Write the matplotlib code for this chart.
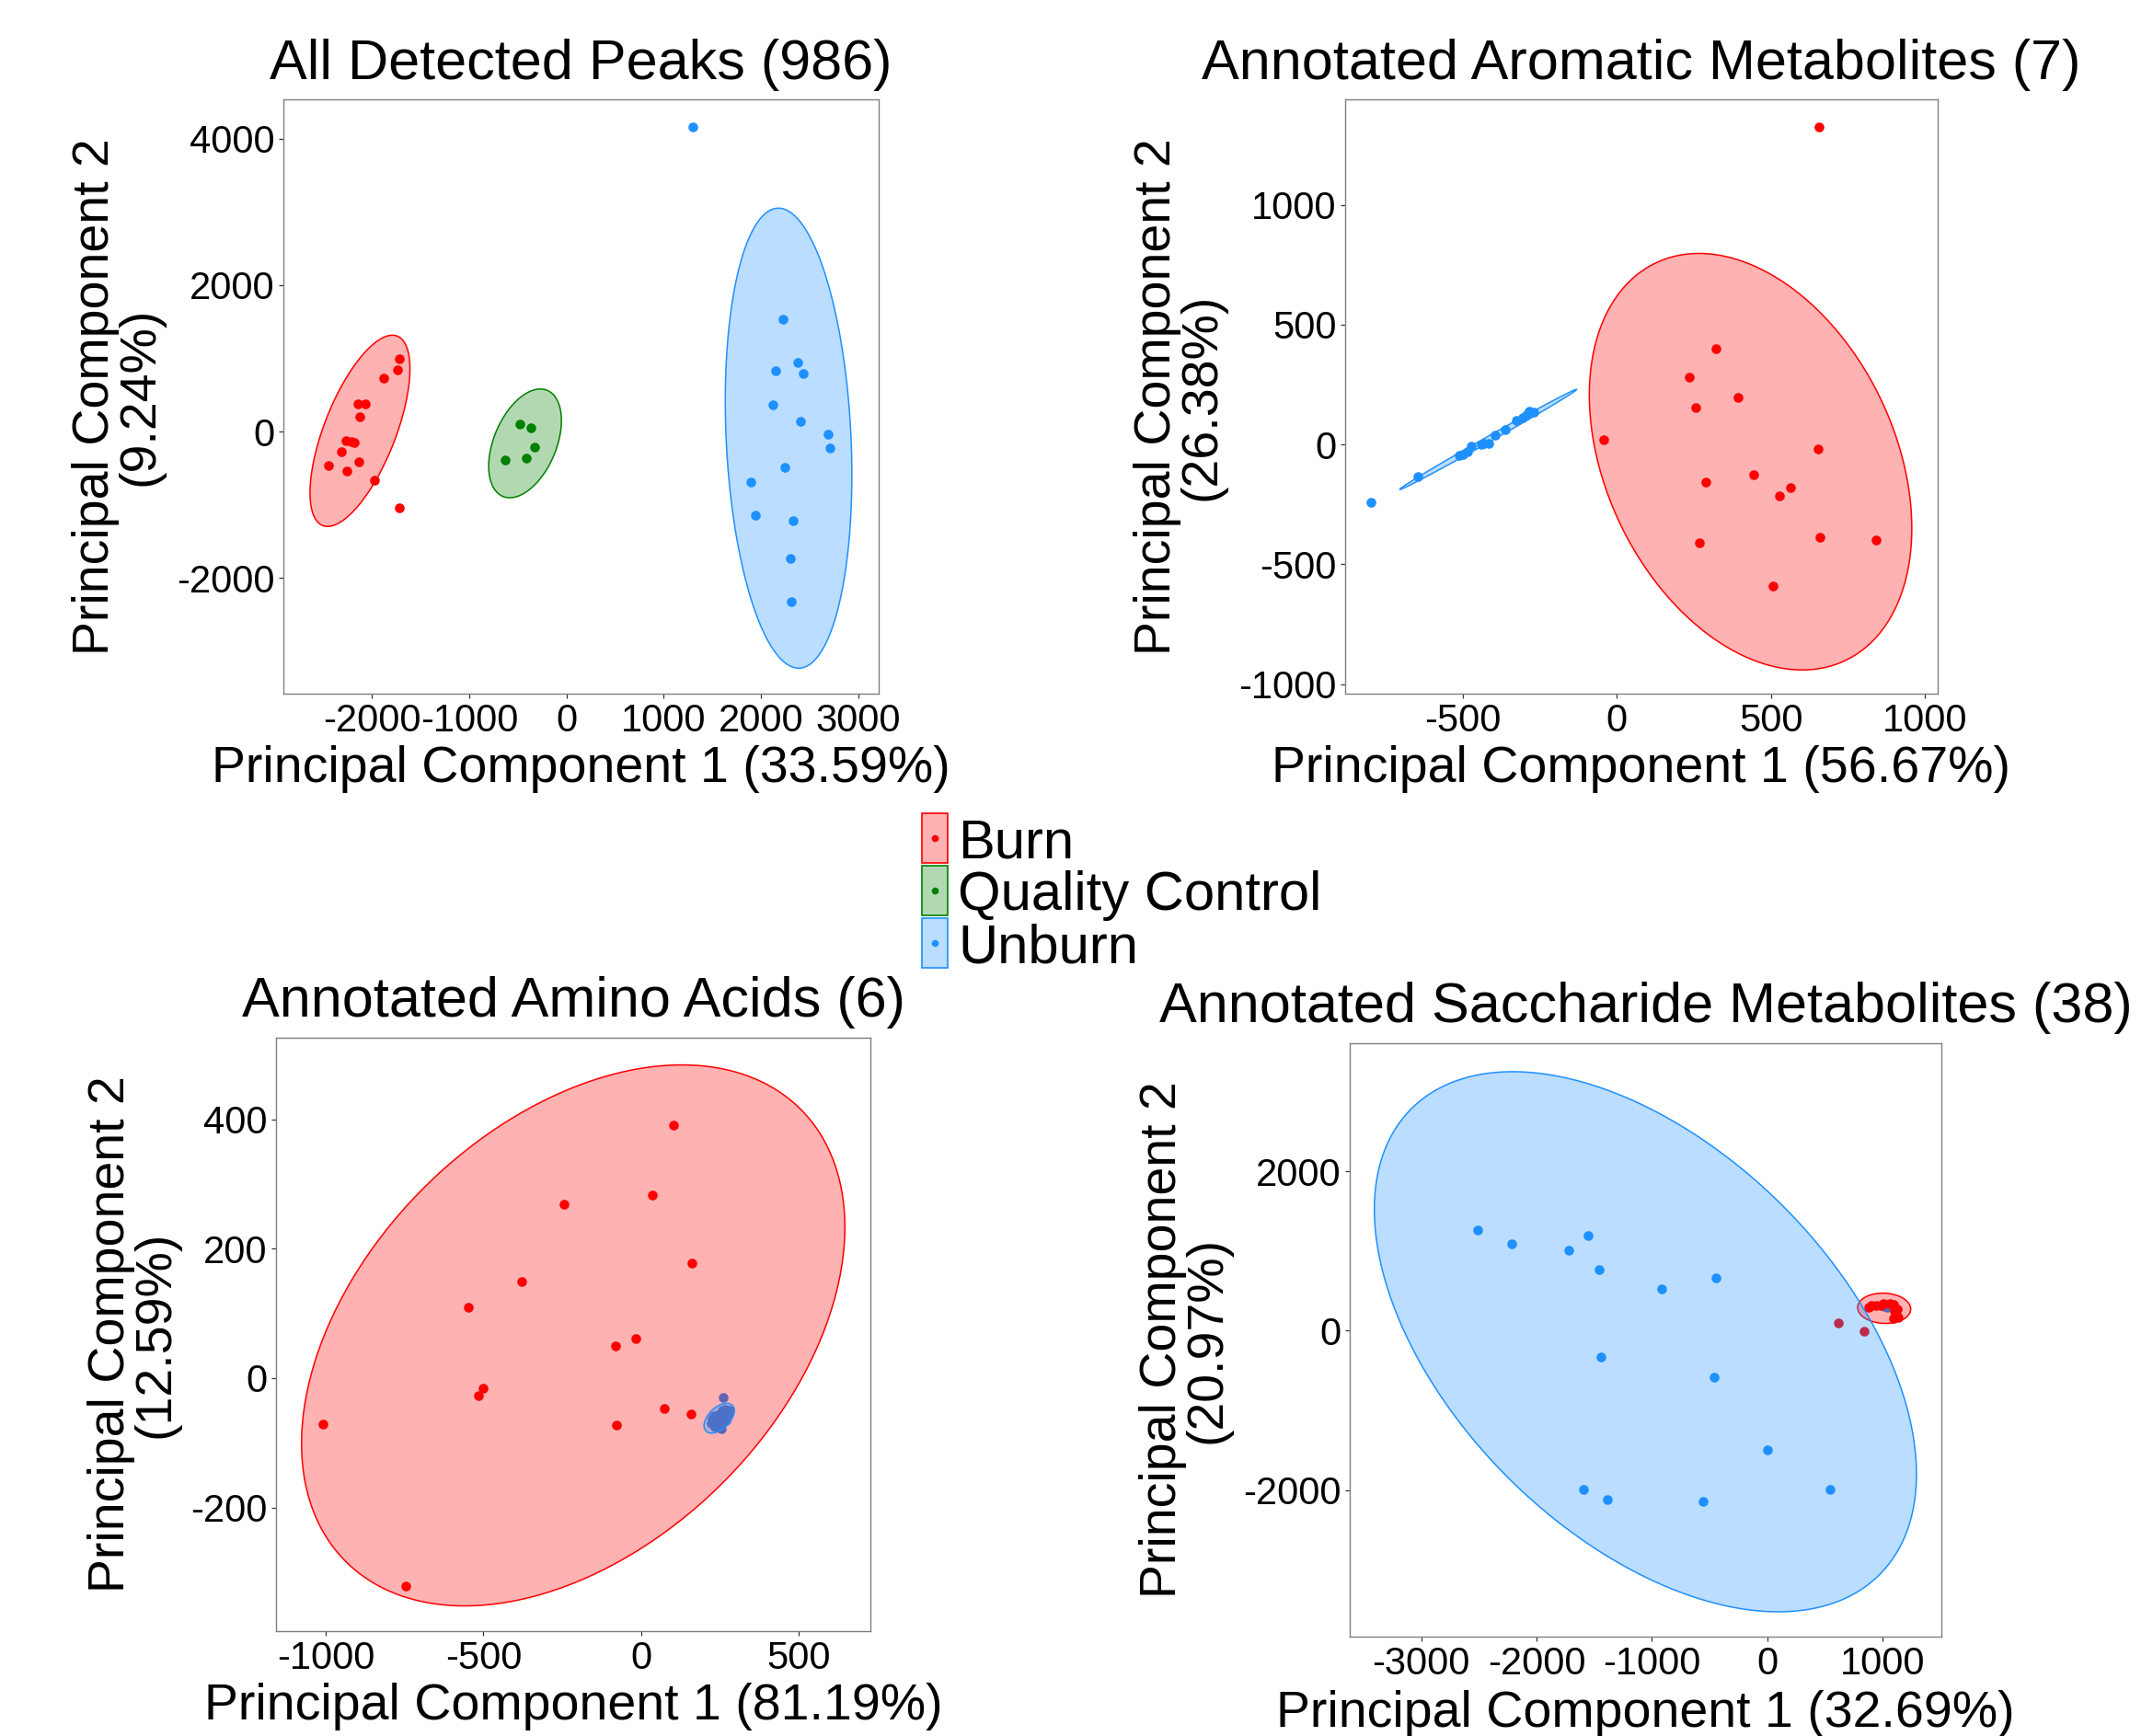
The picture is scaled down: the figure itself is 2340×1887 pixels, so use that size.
import numpy as np
import matplotlib
matplotlib.use("Agg")
import matplotlib.pyplot as plt
from matplotlib.patches import Rectangle
from matplotlib.colors import to_rgba

plt.rcParams['font.family'] = ['Liberation Sans', 'DejaVu Sans']
plt.rcParams['axes.unicode_minus'] = False

groups = ["Burn", "Quality Control", "Unburn"]
colors = ["#FF0000", "#008000", "#1E90FF"]

# ---- All Detected Peaks (986) ----
peaks_burn_x = [-2450, -2317, -2257, -2271, -2211, -2179, -2135, -2127, -2147, -2068, -1972, -1880, -1737, -1721, -1721]
peaks_burn_y = [-465, -280, -534, -122, -132, -148, -412, 206, 380, 380, -666, 724, 840, 988, -1036]
peaks_qc_x = [-633, -482, -367, -327, -414]
peaks_qc_y = [-386, 100, 48, -217, -365]
peaks_unburn_x = [1303, 2223, 2151, 2378, 2434, 2127, 2410, 2689, 2709, 2243, 1896, 1940, 2331, 2307, 2315]
peaks_unburn_y = [4159, 1527, 830, 946, 798, 370, 143, -32, -227, -486, -692, -1147, -1221, -1728, -2325]
# ellipse: centre x, centre y, half width, half height, correlation
peaks_burn_ell = [-2124, 10, 514, 1305, 0.648]
peaks_qc_ell = [-426, -161, 374, 742, 0.42]
peaks_unburn_ell = [2285, -90, 651, 3139, -0.16]

# ---- Annotated Aromatic Metabolites (7) ----
arom_burn_x = [657, 321, 236, 393, 255, -41, 654, 443, 288, 562, 527, 268, 659, 841, 508]
arom_burn_y = [1323, 400, 279, 198, 154, 18, -18, -125, -157, -180, -214, -410, -389, -397, -591]
arom_unburn_x = [-798, -644, -510, -500, -485, -472, -440, -415, -395, -361, -325, -293, -284, -270, -430, -305]
arom_unburn_y = [-240, -134, -45, -40, -29, -8, 0, 3, 39, 63, 100, 125, 138, 133, 5, 112]
arom_burn_ell = [434, -72, 523, 869, -0.32]
arom_unburn_ell = [-417, 21, 287, 209, 0.998]

# ---- Annotated Amino Acids (6) ----
amino_burn_x = [102, 36, -243, 162, -379, -547, -16, -81, -502, -515, -1008, 74, 160, -77, -745]
amino_burn_y = [391, 283, 269, 177, 149, 110, 61, 50, -16, -27, -71, -47, -55, -73, -321]
amino_unburn_x = [260, 222, 232, 240, 250, 258, 268, 275, 262, 248, 235, 225, 270, 255, 245, 280]
amino_unburn_y = [-30, -70, -58, -66, -55, -50, -48, -56, -64, -72, -76, -62, -66, -78, -60, -50]
amino_burn_ell = [-215, 66, 862, 418, 0.40]
amino_unburn_ell = [248, -62, 48, 23, 0.5]

# ---- Annotated Saccharide Metabolites (38) ----
sacc_burn_x = [881, 938, 980, 1009, 1093, 1122, 1107, 1136, 1093, 900, 1060, 1120, 1100, 614, 842]
sacc_burn_y = [299, 315, 315, 341, 329, 274, 184, 163, 151, 320, 335, 200, 250, 97, -10]
sacc_unburn_x = [-2510, -2215, -1718, -1557, -1460, -916, -443, -1440, -463, 0, -1594, -1389, -554, 540, 1040, 1010]
sacc_unburn_y = [1259, 1094, 1011, 1200, 763, 525, 666, -330, -588, -1497, -1988, -2119, -2148, -1988, 300, 310]
sacc_burn_ell = [1012, 282, 230, 190, -0.05]
sacc_unburn_ell = [-1057, -138, 2349, 3390, -0.49]

titles = ["All Detected Peaks (986)", "Annotated Aromatic Metabolites (7)",
          "Annotated Amino Acids (6)", "Annotated Saccharide Metabolites (38)"]
pc1 = ["33.59%", "56.67%", "81.19%", "32.69%"]
pc2 = ["9.24%", "26.38%", "12.59%", "20.97%"]

panels = [
    {"Burn": (peaks_burn_x, peaks_burn_y, peaks_burn_ell),
     "Quality Control": (peaks_qc_x, peaks_qc_y, peaks_qc_ell),
     "Unburn": (peaks_unburn_x, peaks_unburn_y, peaks_unburn_ell)},
    {"Burn": (arom_burn_x, arom_burn_y, arom_burn_ell),
     "Unburn": (arom_unburn_x, arom_unburn_y, arom_unburn_ell)},
    {"Burn": (amino_burn_x, amino_burn_y, amino_burn_ell),
     "Unburn": (amino_unburn_x, amino_unburn_y, amino_unburn_ell)},
    {"Burn": (sacc_burn_x, sacc_burn_y, sacc_burn_ell),
     "Unburn": (sacc_unburn_x, sacc_unburn_y, sacc_unburn_ell)},
]

limits = [((-2912, 3212), (-3577, 4534)),
          ((-881, 1041), (-1040, 1440)),
          ((-1158, 728), (-391, 526)),
          ((-3619, 1508), (-3840, 3609))]
xticks = [[-2000, -1000, 0, 1000, 2000, 3000], [-500, 0, 500, 1000],
          [-1000, -500, 0, 500], [-3000, -2000, -1000, 0, 1000]]
yticks = [[-2000, 0, 2000, 4000], [-1000, -500, 0, 500, 1000],
          [-200, 0, 200, 400], [-2000, 0, 2000]]

W, H = 2340, 1887
# axes boxes in pixels: left, top, right, bottom
boxes = [(308, 108, 955, 754), (1462, 108, 2106, 754),
         (300, 1128, 946, 1773), (1467, 1134, 2110, 1779)]
ylab_x = [128, 1282, 145, 1288]
xlab_off = [82, 82, 82, 84]
title_off = [37, 37, 39, 38]


def ellipse_xy(cx, cy, sx, sy, rho, n=300):
    t = np.linspace(0, 2 * np.pi, n)
    cov = np.array([[sx * sx, rho * sx * sy], [rho * sx * sy, sy * sy]])
    L = np.linalg.cholesky(cov)
    p = L @ np.vstack([np.cos(t), np.sin(t)])
    return cx + p[0], cy + p[1]


fig = plt.figure(figsize=(W / 100, H / 100), dpi=100)

for i, panel in enumerate(panels):
    l, t, r, b = boxes[i]
    ax = fig.add_axes([l / W, 1 - b / H, (r - l) / W, (b - t) / H])
    # points first (unburn underneath burn)
    for g in ["Unburn", "Quality Control", "Burn"]:
        if g in panel:
            x, y, _ = panel[g]
            ax.plot(x, y, 'o', color=colors[groups.index(g)], ms=7.6, mew=0, zorder=2)
    # ellipses drawn over the points
    for g in groups:
        if g in panel:
            c = colors[groups.index(g)]
            ex, ey = ellipse_xy(*panel[g][2])
            ax.fill(ex, ey, fc=to_rgba(c, 0.3), ec=c, lw=1.1, zorder=3)
    ax.set_xlim(*limits[i][0])
    ax.set_ylim(*limits[i][1])
    ax.set_xticks(xticks[i])
    ax.set_yticks(yticks[i])
    ax.tick_params(labelsize=30, length=3.6, width=0.9, color='#333333',
                   labelcolor='black')
    ax.tick_params(axis='x', pad=3.5)
    ax.tick_params(axis='y', pad=3)
    for s in ax.spines.values():
        s.set_color('#7F7F7F')
        s.set_linewidth(1.0)
    ax.set_xlabel("Principal Component 1 (%s)" % pc1[i], fontsize=40, va='center')
    ax.xaxis.set_label_coords(0.5, -xlab_off[i] / (b - t))
    ax.set_ylabel("Principal Component 2\n(%s)" % pc2[i], fontsize=40,
                  va='center', ha='center', multialignment='center', linespacing=0.92)
    ax.yaxis.set_label_coords((ylab_x[i] - l) / (r - l), 0.5)
    ax.text(0.5, 1 + title_off[i] / (b - t), titles[i], transform=ax.transAxes,
            ha='center', va='center', fontsize=44)

# legend, laid out in pixel units
lx0, lx1, ly0, ly1 = 990, 1460, 875, 1062
lax = fig.add_axes([lx0 / W, 1 - ly1 / H, (lx1 - lx0) / W, (ly1 - ly0) / H])
lax.set_xlim(lx0, lx1)
lax.set_ylim(ly1, ly0)
lax.axis('off')
row_top = [884, 941, 998]
for k, g in enumerate(groups):
    c = colors[k]
    lax.add_patch(Rectangle((1002, row_top[k]), 28, 54, fc=to_rgba(c, 0.3), ec=c, lw=1.2))
    lax.plot([1016], [row_top[k] + 27], 'o', color=c, ms=5.5, mew=0)
    lax.text(1041, row_top[k] + 33, g, fontsize=43, va='center', ha='left')

fig.savefig("out.png", dpi=100)
